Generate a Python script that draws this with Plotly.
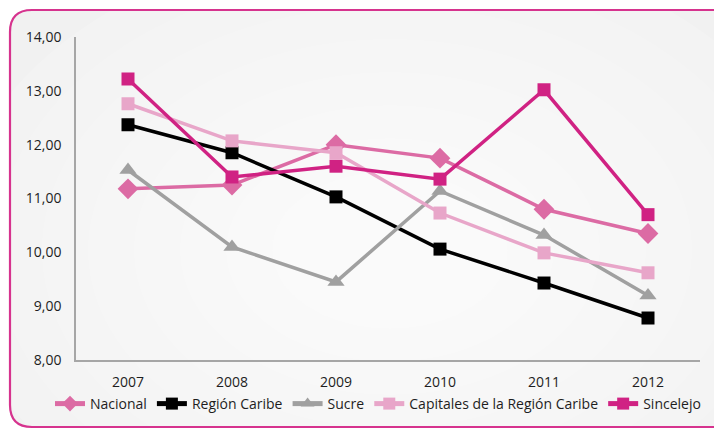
import plotly.graph_objects as go

years = ["2007", "2008", "2009", "2010", "2011", "2012"]
nacional = [11.18, 11.25, 12.00, 11.75, 10.80, 10.35]
region_caribe = [12.37, 11.85, 11.03, 10.06, 9.43, 8.78]
sucre = [11.53, 10.10, 9.45, 11.14, 10.32, 9.20]
capitales = [12.76, 12.07, 11.85, 10.73, 9.99, 9.62]
sincelejo = [13.22, 11.40, 11.60, 11.36, 13.02, 10.70]

OFF = 8  # default page body margin shifts the figure on screen
W, H = 722, 429
# plot area in screen pixels
SL, ST, SR, SB = 76, 37, 700, 360
L, T = SL - OFF, ST - OFF
R, B = W - (SR - OFF), H - (SB - OFF)
PW, PH = SR - SL, SB - ST


def px(x, y):
    """screen pixel -> paper coords"""
    return (x - SL) / PW, (SB - y) / PH


series = [
    ("Nacional", nacional, "#DC6BA4", "diamond", 16),
    ("Región Caribe", region_caribe, "#000000", "square", 13),
    ("Sucre", sucre, "#A0A0A0", "triangle-up", 15),
    ("Capitales de la Región Caribe", capitales, "#E8A6C9", "square", 13),
    ("Sincelejo", sincelejo, "#D02283", "square", 13),
]

fig = go.Figure()
for name, vals, col, sym, sz in series:
    fig.add_trace(go.Scatter(
        x=years, y=vals, name=name, mode="lines+markers",
        line=dict(color=col, width=3.5),
        marker=dict(color=col, symbol=sym, size=sz),
    ))


def P(x, y):
    a, b = px(x, y)
    return f"{a:.5f},{b:.5f}"


shapes = []
x0, y0, x1, y1, r = 10, 10, 760, 427, 22
fill_path = (f"M {P(x0 + r, y0)} L {P(x1, y0)} L {P(x1, y1)} L {P(x0 + r, y1)} "
             f"Q {P(x0, y1)} {P(x0, y1 - r)} L {P(x0, y0 + r)} Q {P(x0, y0)} {P(x0 + r, y0)} Z")
line_path = (f"M {P(x1, y0)} L {P(x0 + r, y0)} Q {P(x0, y0)} {P(x0, y0 + r)} "
             f"L {P(x0, y1 - r)} Q {P(x0, y1)} {P(x0 + r, y1)} L {P(x1, y1)}")
shapes.append(dict(type="path", xref="paper", yref="paper", path=fill_path,
                   fillcolor="#F1F1F1", line=dict(width=0), layer="below"))
# radial-ish highlight
for i in range(8):
    rx, ry = 440 - i * 46, 310 - i * 33
    cx, cy = 390, 250
    a0, b0 = px(cx - rx, cy - ry)
    a1, b1 = px(cx + rx, cy + ry)
    shapes.append(dict(type="circle", xref="paper", yref="paper",
                       x0=a0, y0=b1, x1=a1, y1=b0,
                       fillcolor="rgba(255,255,255,0.15)", line=dict(width=0), layer="below"))
# white outside the frame (clip highlights)
shapes.append(dict(type="rect", xref="paper", yref="paper",
                   x0=px(-20, 0)[0], x1=px(x0, 0)[0], y0=px(0, 460)[1], y1=px(0, -20)[1],
                   fillcolor="white", line=dict(width=0), layer="below"))
shapes.append(dict(type="rect", xref="paper", yref="paper",
                   x0=px(-20, 0)[0], x1=px(760, 0)[0], y0=px(0, y0)[1], y1=px(0, -20)[1],
                   fillcolor="white", line=dict(width=0), layer="below"))
shapes.append(dict(type="rect", xref="paper", yref="paper",
                   x0=px(-20, 0)[0], x1=px(760, 0)[0], y0=px(0, 460)[1], y1=px(0, y1)[1],
                   fillcolor="white", line=dict(width=0), layer="below"))
path_tl = f"M {P(x0 - 1, y0 - 1)} L {P(x0 + r, y0 - 1)} L {P(x0 + r, y0)} Q {P(x0, y0)} {P(x0, y0 + r)} L {P(x0 - 1, y0 + r)} Z"
path_bl = f"M {P(x0 - 1, y1 + 1)} L {P(x0 + r, y1 + 1)} L {P(x0 + r, y1)} Q {P(x0, y1)} {P(x0, y1 - r)} L {P(x0 - 1, y1 - r)} Z"
for pth in (path_tl, path_bl):
    shapes.append(dict(type="path", xref="paper", yref="paper", path=pth,
                       fillcolor="white", line=dict(width=0), layer="below"))
# border line (open on the right, where it runs off the picture)
shapes.append(dict(type="path", xref="paper", yref="paper", path=line_path,
                   fillcolor="rgba(0,0,0,0)", line=dict(width=2.2, color="#D6338E"), layer="below"))

fig.update_layout(
    width=W, height=H,
    margin=dict(l=L, r=R, t=T, b=B, pad=0, autoexpand=False),
    paper_bgcolor="white", plot_bgcolor="rgba(0,0,0,0)",
    font=dict(family="Open Sans", size=14, color="#1E1E1E"),
    separators=",.",
    shapes=shapes,
    showlegend=True,
    legend=dict(orientation="h", x=px(50, 0)[0], xanchor="left",
                y=px(0, 404)[1], yanchor="middle",
                font=dict(size=14, color="#1E1E1E"),
                bgcolor="rgba(0,0,0,0)", itemwidth=30, itemsizing="constant",
                tracegroupgap=0, traceorder="normal"),
    xaxis=dict(type="category", range=[-0.5, 5.5], showgrid=False, zeroline=False,
               showline=True, linecolor="#A6A6A6", linewidth=1.5,
               ticks="", tickfont=dict(size=14), ticklabelstandoff=8),
    yaxis=dict(range=[8, 14], dtick=1, tickformat=".2f", showgrid=False,
               zeroline=False, showline=True, linecolor="#A6A6A6", linewidth=1.5,
               ticks="", tickfont=dict(size=14), ticklabelstandoff=10),
)

fig.write_html("out.html")
